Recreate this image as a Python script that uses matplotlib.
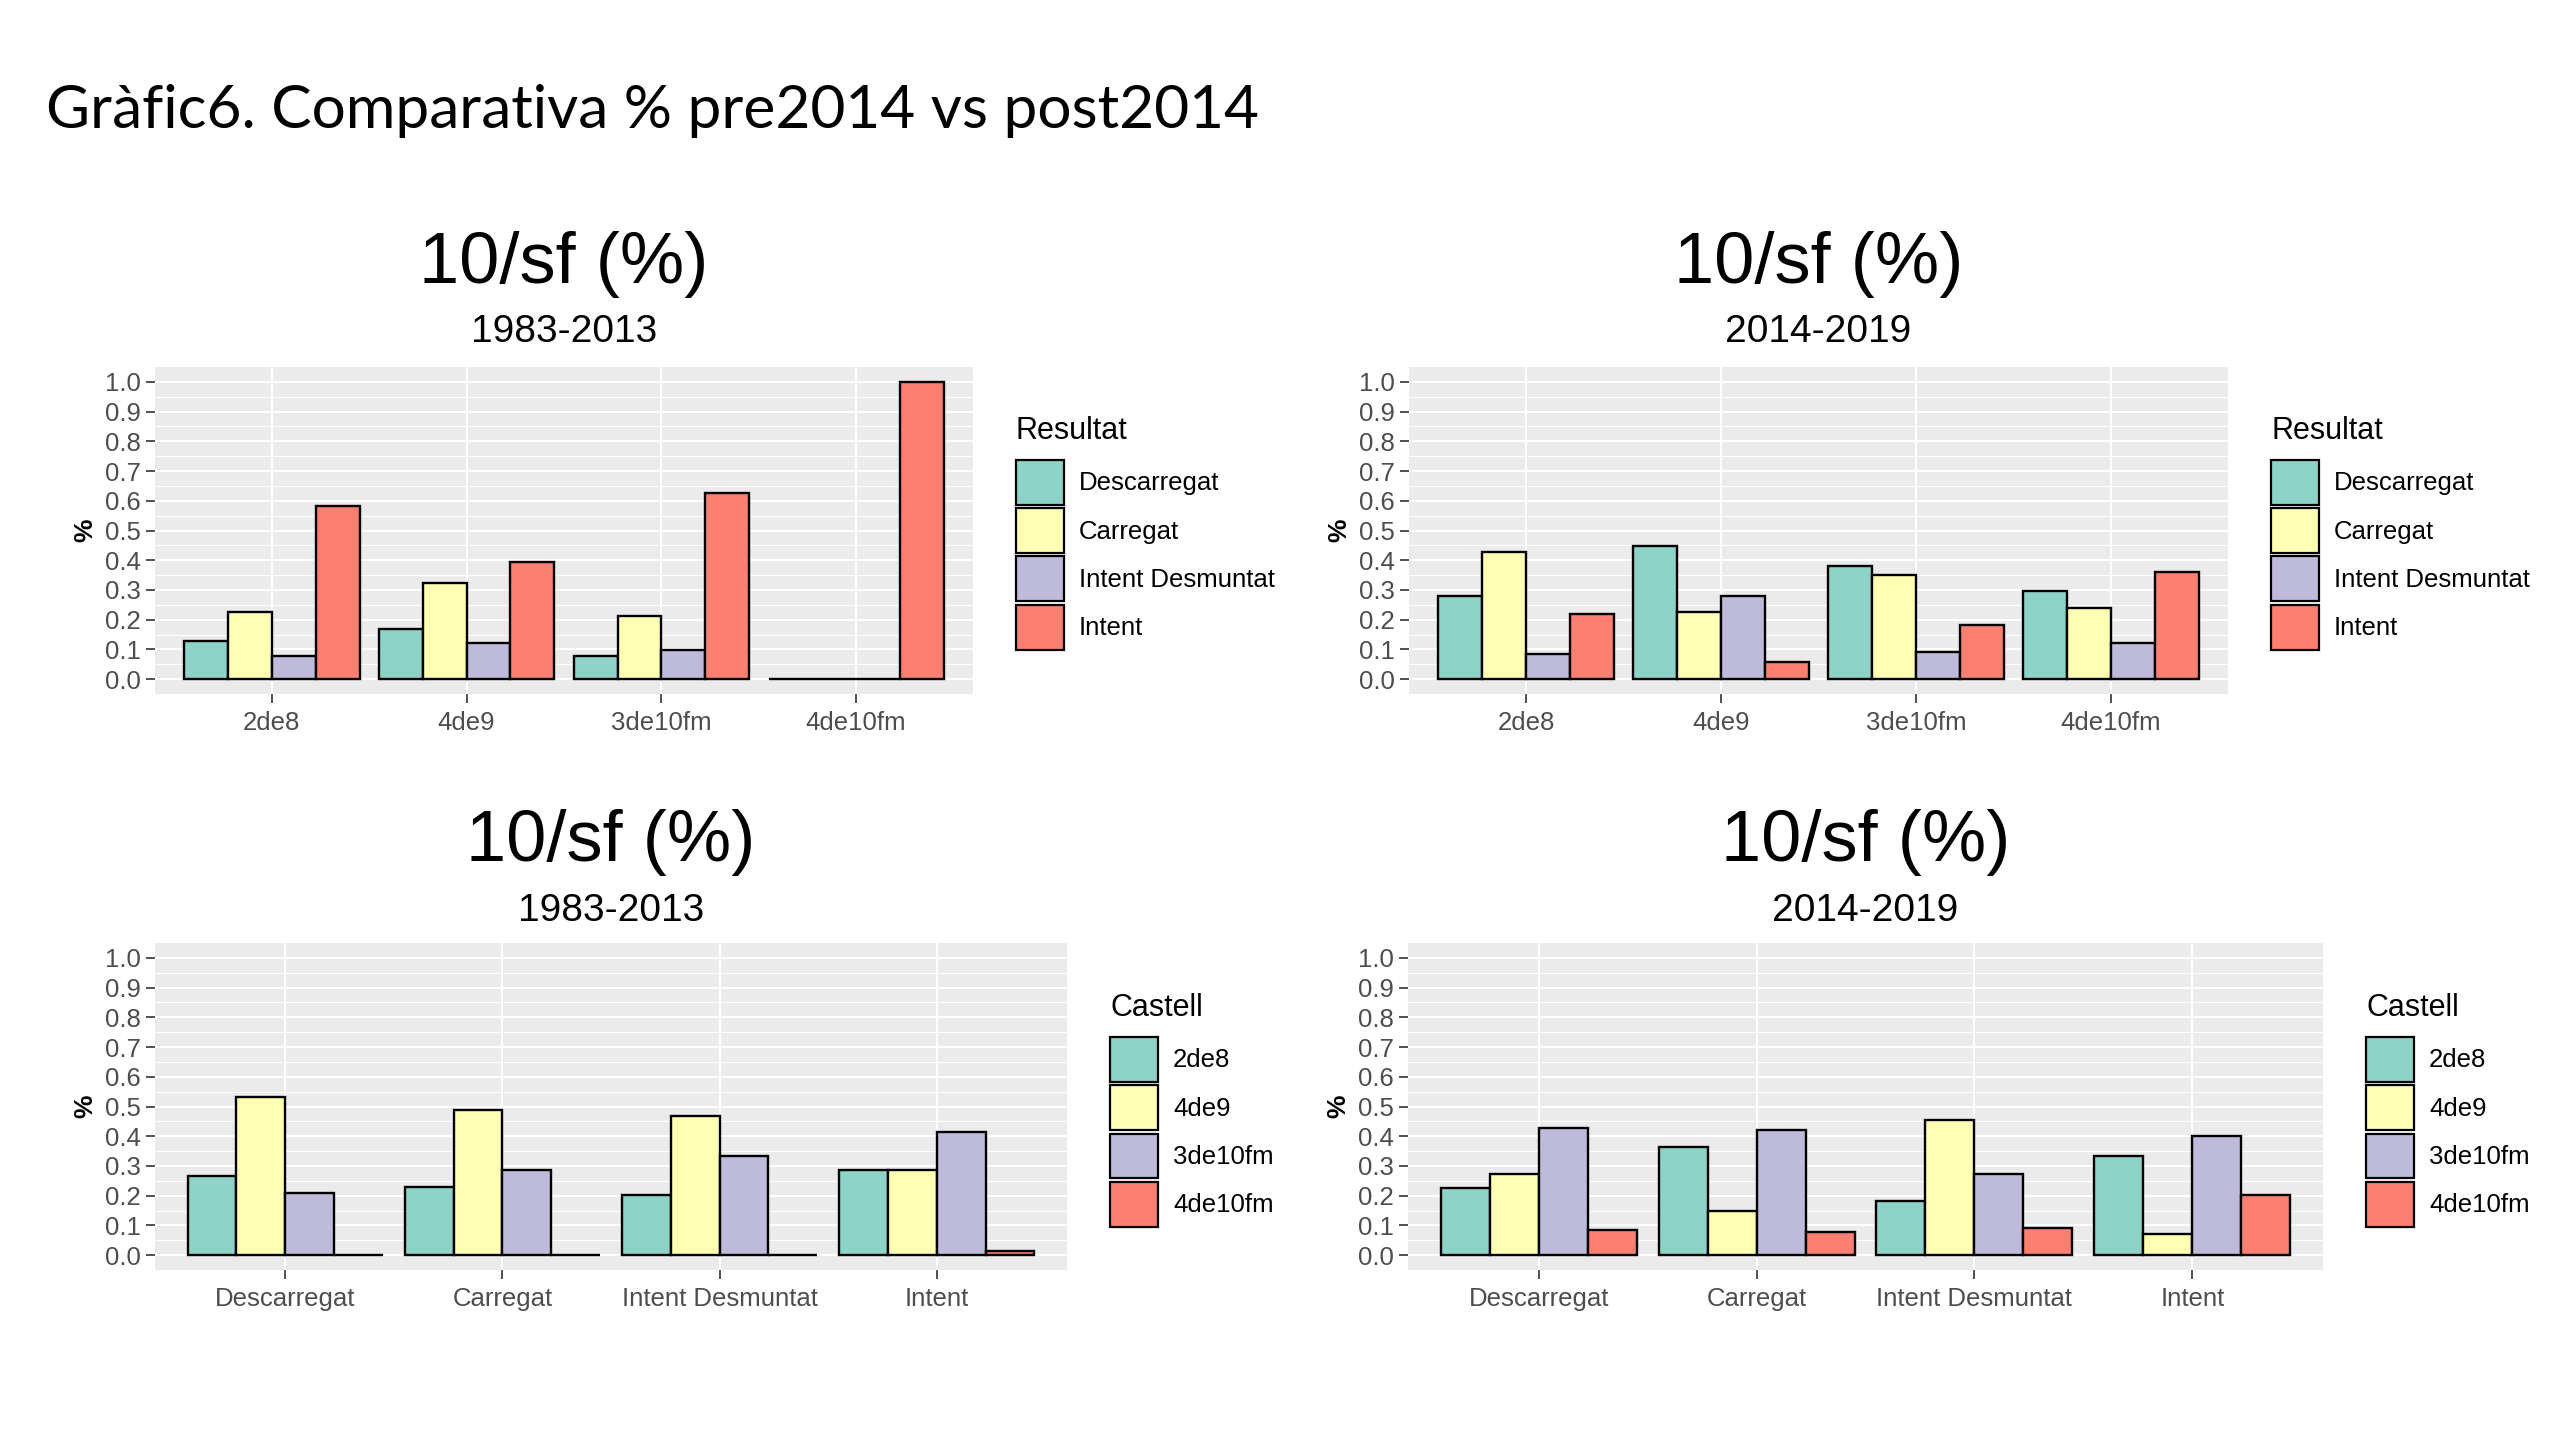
import matplotlib
matplotlib.use('Agg')
import matplotlib.pyplot as plt
from matplotlib.patches import Patch
import numpy as np

# ---------------- data ----------------
castells = ['2de8', '4de9', '3de10fm', '4de10fm']
resultats = ['Descarregat', 'Carregat', 'Intent Desmuntat', 'Intent']

# Top-left: 1983-2013, x = castell, fill = resultat
pre_descarregat = [0.127, 0.169, 0.078, 0.0]
pre_carregat = [0.226, 0.323, 0.211, 0.0]
pre_intent_desm = [0.078, 0.120, 0.097, 0.0]
pre_intent = [0.583, 0.393, 0.625, 1.0]

# Top-right: 2014-2019, x = castell, fill = resultat
post_descarregat = [0.280, 0.448, 0.380, 0.295]
post_carregat = [0.428, 0.226, 0.350, 0.240]
post_intent_desm = [0.085, 0.280, 0.092, 0.120]
post_intent = [0.218, 0.057, 0.182, 0.359]

# Bottom-left: 1983-2013, x = resultat, fill = castell
pre_2de8 = [0.266, 0.230, 0.202, 0.287]
pre_4de9 = [0.532, 0.489, 0.469, 0.287]
pre_3de10fm = [0.210, 0.288, 0.335, 0.413]
pre_4de10fm = [0.0, 0.0, 0.0, 0.015]

# Bottom-right: 2014-2019, x = resultat, fill = castell
post_2de8 = [0.226, 0.364, 0.181, 0.335]
post_4de9 = [0.274, 0.147, 0.455, 0.072]
post_3de10fm = [0.428, 0.420, 0.274, 0.400]
post_4de10fm = [0.084, 0.077, 0.092, 0.203]

main_title = 'Gràfic6. Comparativa % pre2014 vs post2014'
panel_title = '10/sf (%)'
period_pre = '1983-2013'
period_post = '2014-2019'

colors = ['#8DD3C7', '#FFFFB3', '#BEBADA', '#FB8072']

# ---------------- figure ----------------
W, H = 2560, 1440
fig = plt.figure(figsize=(W / 100, H / 100), dpi=100)
fig.patch.set_facecolor('white')
FONT = ['Liberation Sans', 'DejaVu Sans']
TICK_SIZE = 18.5


def ax_at(x0, y0, x1, y1):
    return fig.add_axes([x0 / W, 1 - y1 / H, (x1 - x0) / W, (y1 - y0) / H])


def draw_panel(ax, cats, series):
    n = len(series)
    width = 0.9 / n
    x = np.arange(1, len(cats) + 1)
    for i, (vals, c) in enumerate(zip(series, colors)):
        ax.bar(x - 0.45 + width * (i + 0.5), vals, width, color=c,
               edgecolor='black', linewidth=1.7, zorder=3)
    ax.set_xlim(0.4, len(cats) + 0.6)
    ax.set_ylim(-0.05, 1.05)
    ax.set_facecolor('#EBEBEB')
    yt = np.round(np.arange(0, 1.01, 0.1), 1)
    ax.set_yticks(yt)
    ax.set_yticklabels(['%.1f' % v for v in yt], fontfamily=FONT)
    ax.set_yticks(np.arange(0.05, 1.0, 0.1), minor=True)
    ax.set_xticks(x)
    ax.set_xticklabels(cats, fontfamily=FONT)
    ax.grid(which='major', color='white', linewidth=1.5)
    ax.grid(which='minor', axis='y', color='white', linewidth=0.8)
    ax.set_axisbelow(True)
    for s in ax.spines.values():
        s.set_visible(False)
    ax.tick_params(which='major', length=6.5, width=1.2, color='#333333',
                   labelcolor='#4D4D4D', labelsize=TICK_SIZE)
    ax.tick_params(which='minor', length=0)
    ax.tick_params(axis='x', pad=6)
    ax.tick_params(axis='y', pad=4)
    ax.set_ylabel('%', fontsize=19, fontweight='bold', fontfamily=FONT,
                  labelpad=5)


def add_legend(title, names, x, y):
    handles = [Patch(facecolor=c, edgecolor='black', linewidth=1.6) for c in colors]
    leg = fig.legend(handles, names, title=title, loc='upper left',
                     bbox_to_anchor=(x / W, 1 - y / H), frameon=False,
                     prop={'family': FONT, 'size': TICK_SIZE},
                     title_fontproperties={'family': FONT, 'size': 22},
                     handlelength=1.85, handleheight=2.3, labelspacing=0.14,
                     handletextpad=0.6, borderpad=0, borderaxespad=0,
                     alignment='left')
    leg._legend_box.sep = 10
    return leg


def add_titles(cx, base1, base2, sub):
    fig.text(cx / W, 1 - base1 / H, panel_title, fontsize=52, fontfamily=FONT,
             ha='center', va='baseline')
    fig.text(cx / W, 1 - base2 / H, sub, fontsize=28, fontfamily=FONT,
             ha='center', va='baseline')


# panels
ax1 = ax_at(155, 367, 973, 694)
draw_panel(ax1, castells, [pre_descarregat, pre_carregat, pre_intent_desm, pre_intent])
add_titles((155 + 973) / 2, 283, 342, period_pre)
add_legend('Resultat', resultats, 1016, 416)

ax2 = ax_at(1409, 367, 2228, 694)
draw_panel(ax2, castells, [post_descarregat, post_carregat, post_intent_desm, post_intent])
add_titles((1409 + 2228) / 2, 283, 342, period_post)
add_legend('Resultat', resultats, 2271, 416)

ax3 = ax_at(155, 943, 1067, 1270)
draw_panel(ax3, resultats, [pre_2de8, pre_4de9, pre_3de10fm, pre_4de10fm])
add_titles((155 + 1067) / 2, 861, 921, period_pre)
add_legend('Castell', castells, 1110, 993)

ax4 = ax_at(1408, 943, 2323, 1270)
draw_panel(ax4, resultats, [post_2de8, post_4de9, post_3de10fm, post_4de10fm])
add_titles((1408 + 2323) / 2, 861, 921, period_post)
add_legend('Castell', castells, 2366, 993)

fig.text(46 / W, 1 - 128 / H, main_title, fontsize=43.5,
         fontfamily=['Lato', 'DejaVu Sans'], ha='left', va='baseline')

fig.savefig('out.png', dpi=100, facecolor='white')
